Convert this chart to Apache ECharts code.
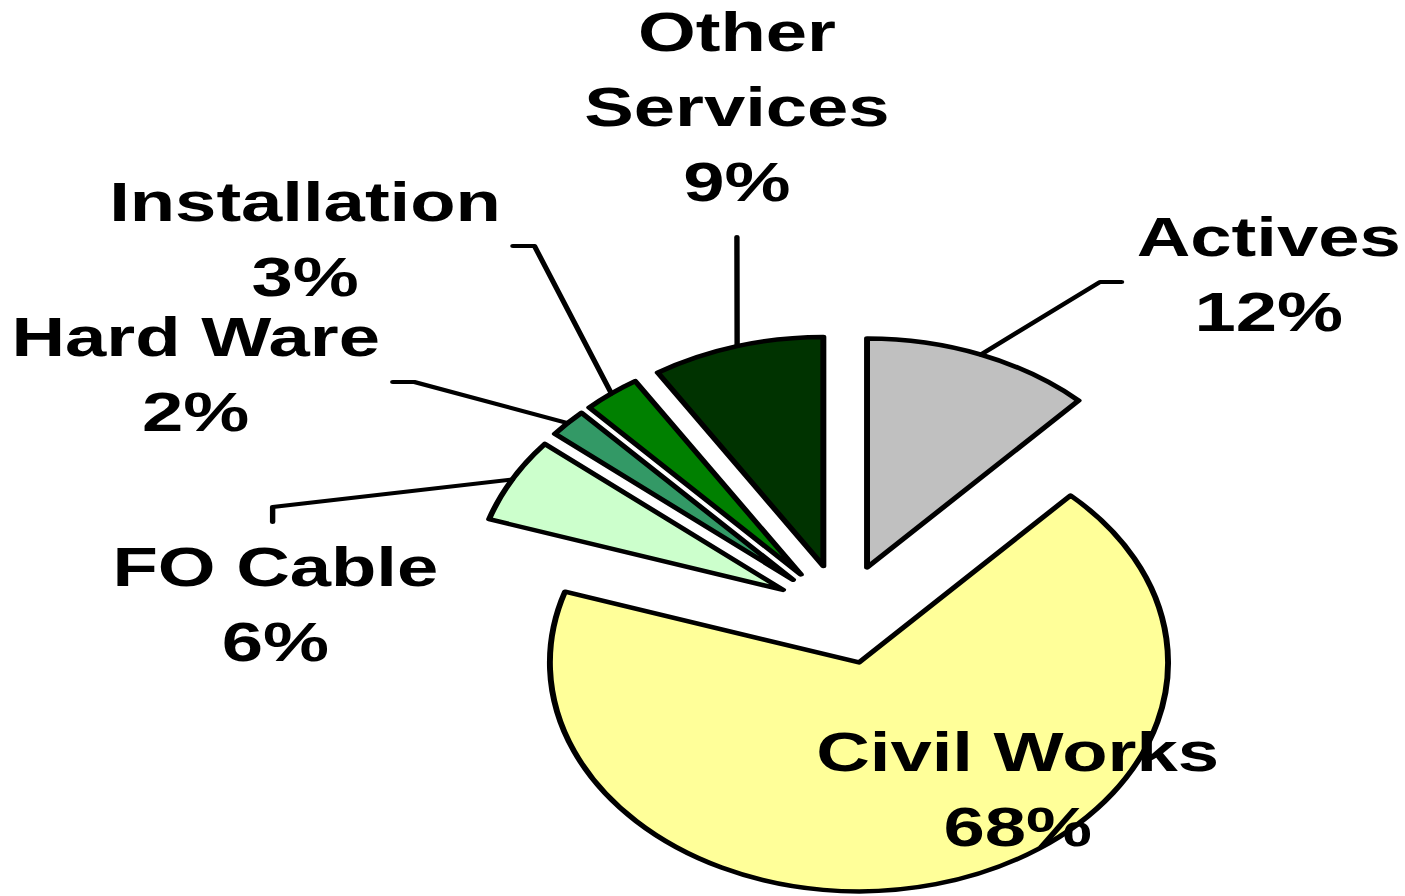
<!DOCTYPE html>
<html>
<head>
<meta charset="utf-8">
<script src="https://cdn.jsdelivr.net/npm/echarts@6/dist/echarts.min.js"></script>
<style>
html, body { margin: 0; padding: 0; background: #fff; overflow: hidden; width: 1405px; height: 896px; }
#chart { width: 1041px; height: 896px; transform: scaleX(1.349664); transform-origin: 0 0; }
</style>
</head>
<body>
<div id="chart"></div>
<script>
// ---- data ----
const categories = ['Actives', 'Civil Works', 'FO Cable', 'Hard Ware', 'Installation', 'Other Services'];
const values = [12, 68, 6, 2, 3, 9];

// ---- styling / layout (not data) ----
const colors = ['#C0C0C0', '#FFFF99', '#CCFFCC', '#339966', '#008000', '#003300'];
const labelCenters = [[940, 275], [754, 790], [204, 605], [145, 375], [226, 240], [546, 107]];
const leaderBends = [
  [[815, 282], [831, 282]],
  null,
  [[202, 507], [202, 522]],
  [[307, 382], [291, 382]],
  [[396, 246], [380, 246]],
  [[546, 237], [546, 237]]
];
const EXPLODE = 50;
const CENTER = [624, 614];
const RADIUS = 229;

const total = values.reduce((a, b) => a + b, 0);
const midAngles = [];
(function () { let cum = 0; values.forEach(v => { midAngles.push((cum + v / 2) / total * 2 * Math.PI); cum += v; }); })();

const textStyle = {
  color: '#000',
  fontFamily: 'Liberation Sans',
  fontWeight: 'bold',
  fontSize: 55,
  lineHeight: 75
};

const chart = echarts.init(document.getElementById('chart'), null, { renderer: 'svg' });

chart.setOption({
  backgroundColor: '#ffffff',
  animation: false,
  series: [{
    // exploded slices
    type: 'pie',
    center: CENTER,
    radius: RADIUS,
    startAngle: 90,
    clockwise: true,
    selectedMode: 'multiple',
    selectedOffset: EXPLODE,
    itemStyle: { borderColor: '#000', borderWidth: 4.4, borderJoin: 'round' },
    emphasis: { disabled: true },
    select: { itemStyle: { borderColor: '#000', borderWidth: 4.4, borderJoin: 'round' } },
    label: { show: false },
    labelLine: { show: false },
    data: categories.map((c, i) => ({
      name: c,
      value: values[i],
      selected: true,
      itemStyle: { color: colors[i] }
    }))
  }, {
    // labels and leader lines
    type: 'pie',
    center: CENTER,
    radius: RADIUS,
    startAngle: 90,
    clockwise: true,
    silent: true,
    selectedMode: false,
    avoidLabelOverlap: false,
    z: 5,
    itemStyle: { color: 'rgba(0,0,0,0)', borderWidth: 0 },
    emphasis: { disabled: true },
    label: Object.assign({
      show: true,
      position: 'outside',
      formatter: p => (p.name === 'Other Services' ? 'Other\nServices' : p.name) + '\n' + Math.round(p.percent) + '%'
    }, textStyle),
    labelLine: { show: true, length: 20, length2: 10, lineStyle: { color: '#000', width: 4, cap: 'round', join: 'round' } },
    labelLayout: function (p) {
      const i = p.dataIndex;
      const c = labelCenters[i];
      const out = { x: c[0], y: c[1], align: 'center', verticalAlign: 'middle' };
      const b = leaderBends[i];
      if (b && p.labelLinePoints) {
        const a = midAngles[i];
        const sx = EXPLODE * Math.sin(a), sy = -EXPLODE * Math.cos(a);
        const p0 = p.labelLinePoints[0];
        out.labelLinePoints = [[p0[0] + sx, p0[1] + sy], b[0], b[1]];
      }
      return out;
    },
    data: categories.map((c, i) => ({
      name: c,
      value: values[i],
      labelLine: i === 1 ? { show: false } : undefined
    }))
  }]
});
</script>
</body>
</html>
